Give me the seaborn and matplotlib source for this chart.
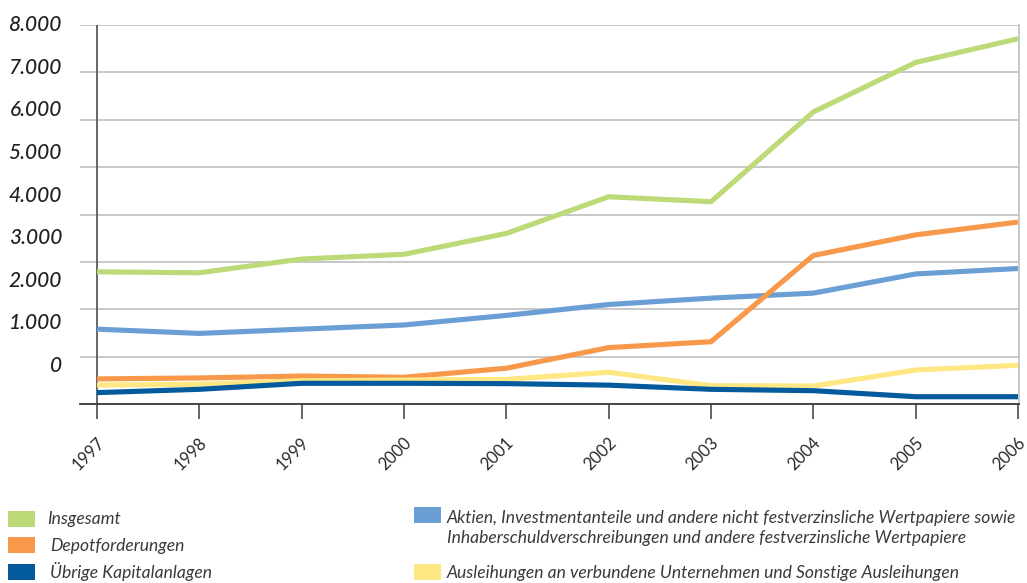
import matplotlib
matplotlib.use("Agg")
import matplotlib.pyplot as plt
import matplotlib.transforms as mtransforms
from matplotlib.patches import Rectangle
import seaborn as sns
import pandas as pd

years = [1997, 1998, 1999, 2000, 2001, 2002, 2003, 2004, 2005, 2006]
insgesamt = [2790, 2770, 3060, 3160, 3600, 4375, 4270, 6165, 7210, 7710]
aktien = [1580, 1490, 1580, 1668, 1870, 2100, 2235, 2340, 2745, 2860]
depot = [530, 550, 590, 565, 755, 1190, 1315, 3135, 3570, 3840]
ausleihungen = [400, 415, 490, 505, 520, 670, 387, 380, 718, 817]
uebrige = [240, 310, 437, 437, 430, 398, 310, 281, 154, 154]

series_names = [
    "Insgesamt",
    "Aktien, Investmentanteile und andere nicht festverzinsliche Wertpapiere sowie\nInhaberschuldverschreibungen und andere festverzinsliche Wertpapiere",
    "Depotforderungen",
    "Ausleihungen an verbundene Unternehmen und Sonstige Ausleihungen",
    "Übrige Kapitalanlagen",
]
series_values = [insgesamt, aktien, depot, ausleihungen, uebrige]
colors = ["#bdda78", "#6a9fd5", "#f8984b", "#ffe883", "#035a9c"]
ytick_values = [0, 1000, 2000, 3000, 4000, 5000, 6000, 7000, 8000]
ytick_labels = ["0", "1.000", "2.000", "3.000", "4.000", "5.000", "6.000", "7.000", "8.000"]

df = pd.DataFrame({
    "Jahr": years * len(series_names),
    "Wert": [v for s in series_values for v in s],
    "Serie": [n for n in series_names for _ in years],
})

sns.set_theme(style="white")
plt.rcParams["font.family"] = ["Lato", "DejaVu Sans"]

W, H = 1027, 583
fig = plt.figure(figsize=(W / 100, H / 100), dpi=100)

def fx(px):
    return px / W

def fy(py):
    return 1 - py / H

ax = fig.add_axes([fx(80), fy(404), fx(1019) - fx(80), fy(25) - fy(404)])

sns.lineplot(data=df, x="Jahr", y="Wert", hue="Serie", hue_order=series_names,
             palette=colors, linewidth=3.7, legend=False, ax=ax,
             solid_capstyle="butt")

ax.set_xlim(1997 - 17 / 102.3, 2006 + 1 / 102.3)
ax.set_ylim(0, 8000)
ax.set_xlabel("")
ax.set_ylabel("")

# gridlines
ax.set_yticks(ytick_values)
ax.set_yticklabels([])
ax.tick_params(axis="y", length=0)
ax.yaxis.grid(True, color="#c8c8c8", linewidth=1.4)
ax.set_axisbelow(True)

# left vertical line at first year
ax.axvline(years[0], color="#5a5a5a", linewidth=1.3, zorder=1)

# shifted y labels (as in the reference)
ytr = mtransforms.blended_transform_factory(ax.transAxes, ax.transData)
for v, lab in zip(ytick_values, ytick_labels):
    ax.text(-18 / 939, 800 + 0.9 * v, lab, transform=ytr, ha="right", va="center",
            fontsize=15, fontstyle="italic", fontweight="medium", color="#231f20")

for side in ["top", "left"]:
    ax.spines[side].set_visible(False)
ax.spines["bottom"].set_color("#3a3a3a")
ax.spines["bottom"].set_linewidth(1.3)
ax.spines["right"].set_color("#c8c8c8")
ax.spines["right"].set_linewidth(1.4)

ax.set_xticks(years)
ax.set_xticklabels([str(y) for y in years])
ax.tick_params(axis="x", direction="out", length=10.8, width=1.2, color="#4a4a4a",
               bottom=True, labelsize=12, labelcolor="#2a2a2a", pad=15)
offset = mtransforms.ScaledTranslation(5 / 100, 0, fig.dpi_scale_trans)
for lab in ax.get_xticklabels():
    lab.set_rotation(45)
    lab.set_ha("right")
    lab.set_va("center")
    lab.set_rotation_mode("anchor")
    lab.set_transform(lab.get_transform() + offset)

# manual legend
legend_items = [
    (0, 8, 511, 47, 519),
    (2, 8, 537, 50, 546),
    (4, 8, 564, 50, 572),
    (1, 414, 507, 447, 528),
    (3, 414, 564, 447, 573),
]
for idx, bx, by, tx, ty in legend_items:
    fig.add_artist(Rectangle((fx(bx), fy(by + 16)), fx(27), 16 / H,
                             transform=fig.transFigure, facecolor=colors[idx],
                             edgecolor="none"))
    fig.text(fx(tx), fy(ty), series_names[idx], ha="left", va="center",
             fontsize=12.6, fontstyle="italic", color="#3a3a3a", linespacing=1.25)

fig.savefig("out.png", dpi=100)
